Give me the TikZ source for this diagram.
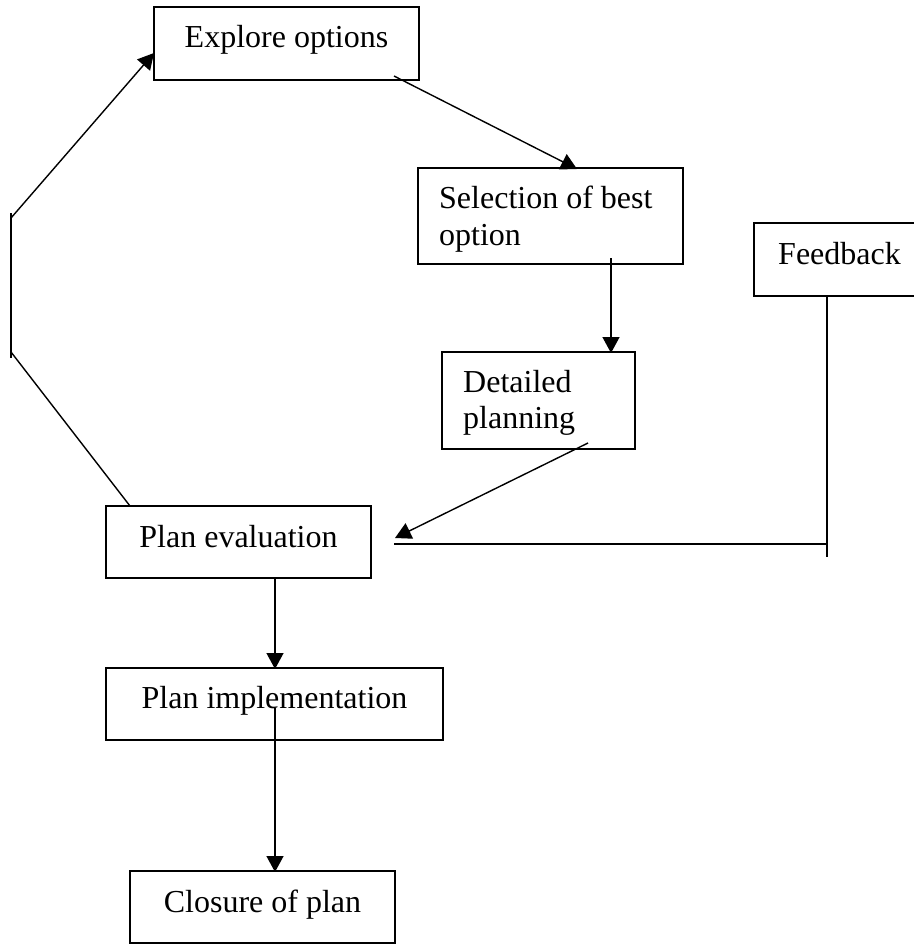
\documentclass[tikz,border=0pt]{standalone}
\usepackage{fontspec}
\setmainfont{Liberation Serif}
\usetikzlibrary{arrows.meta}
\begin{document}
\begin{tikzpicture}[x=1pt,y=-1pt,
  box/.style={draw,line width=1.5pt,inner sep=0pt,minimum width=#1},
  lbl/.style={inner sep=0pt,anchor=base,font=\fontsize{32}{36.5}\selectfont},
  lbll/.style={inner sep=0pt,anchor=base west,font=\fontsize{32}{36.5}\selectfont},
  conn/.style={line width=1.4pt},
  arr/.style={line width=1.4pt,-{Triangle[length=16pt,width=17pt]}}]
\useasboundingbox (0,0) rectangle (913,944);
% boxes
\node[box=265pt,minimum height=73pt] (explore) at (286.5,43.5) {};
\node[box=265pt,minimum height=96pt] (select) at (550.5,216) {};
\node[box=193pt,minimum height=97pt] (detail) at (538.5,400.5) {};
\node[box=170pt,minimum height=73pt] (feedback) at (839,259.5) {};
\node[box=265pt,minimum height=72pt] (eval) at (238.5,542) {};
\node[box=337pt,minimum height=72pt] (impl) at (274.5,704) {};
\node[box=265pt,minimum height=72pt] (closure) at (262.5,907) {};
% texts
\node[lbl] (t1) at (286.5,48) {Explore options};
\node[lbll] (t2a) at (439,208) {Selection of best};
\node[lbll] (t2b) at (439,245) {option};
\node[lbll] (t3a) at (463,392) {Detailed};
\node[lbll] (t3b) at (463,428) {planning};
\node[lbll] (t4) at (778,264) {Feedback};
\node[lbl] (t5) at (238.5,547) {Plan evaluation};
\node[lbl] (t6) at (274.5,708) {Plan implementation};
\node[lbl] (t7) at (262.5,912) {Closure of plan};
% connector points
\coordinate (vtop) at (11,213);
\coordinate (vbot) at (11,358);
\coordinate (vup) at (11,218);
\coordinate (vlow) at (11,352);
\coordinate (evaltop) at (130,506);
\coordinate (exin) at (154,53);
\coordinate (exout) at (394,76);
\coordinate (selin) at (577,169);
\coordinate (selout) at (611,258);
\coordinate (detin) at (611,353);
\coordinate (detout) at (588,443);
\coordinate (evalin) at (395,538);
\coordinate (fbtop) at (827,296);
\coordinate (fbbot) at (827,557);
\coordinate (fbj) at (827,544);
\coordinate (fbend) at (394,544);
\coordinate (evout) at (275,577);
\coordinate (imin) at (275,669);
\coordinate (imout) at (275,708);
\coordinate (clin) at (275,872);
% connectors
\draw[conn] (evaltop) -- (vlow);
\draw[conn] (vtop) -- (vbot);
\draw[arr] (vup) -- (exin);
\draw[arr] (exout) -- (selin);
\draw[arr] (selout) -- (detin);
\draw[arr] (detout) -- (evalin);
\draw[conn] (fbtop) -- (fbbot);
\draw[conn] (fbj) -- (fbend);
\draw[arr] (evout) -- (imin);
\draw[arr] (imout) -- (clin);
\end{tikzpicture}
\end{document}
